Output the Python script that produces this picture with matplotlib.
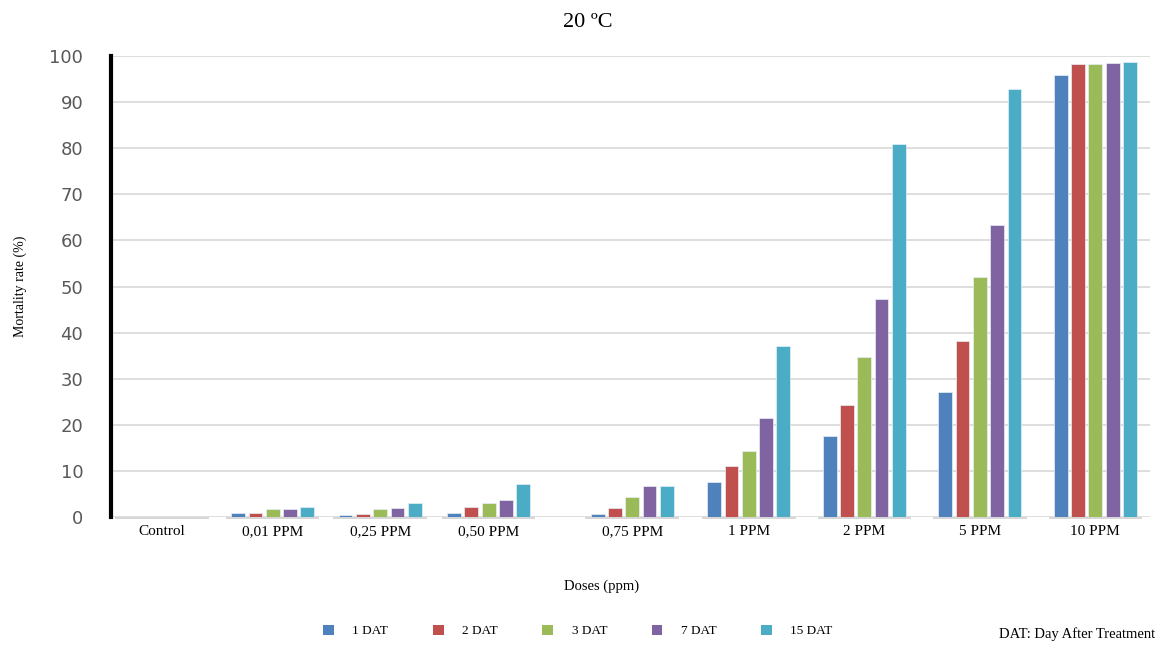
import matplotlib
matplotlib.use("Agg")
import matplotlib.pyplot as plt
from matplotlib.patches import Patch

# Mortality rate (%) per dose, for each observation day after treatment
doses = ["Control", "0,01 PPM", "0,25 PPM", "0,50 PPM", "0,75 PPM",
         "1 PPM", "2 PPM", "5 PPM", "10 PPM"]
series_names = ["1 DAT", "2 DAT", "3 DAT", "7 DAT", "15 DAT"]
dat_1 = [0.0, 0.8, 0.5, 0.8, 0.7, 7.6, 17.6, 27.1, 95.9]
dat_2 = [0.0, 0.8, 0.7, 2.1, 1.9, 11.1, 24.3, 38.2, 98.3]
dat_3 = [0.0, 1.7, 1.7, 3.1, 4.3, 14.4, 34.7, 52.1, 98.3]
dat_7 = [0.0, 1.7, 1.9, 3.6, 6.7, 21.5, 47.3, 63.3, 98.5]
dat_15 = [0.0, 2.1, 3.1, 7.2, 6.7, 37.1, 80.9, 92.8, 98.7]
series = [dat_1, dat_2, dat_3, dat_7, dat_15]

# Layout: group centres along the category axis (uneven spacing)
group_x = [0.0, 0.95, 1.87, 2.80, 4.03, 5.03, 6.02, 7.01, 8.00]
colors = ["#4F81BD", "#C0504D", "#9BBB59", "#8064A2", "#4BACC6"]
bar_step = 0.148
bar_w = 0.118

serif = ["Liberation Serif", "DejaVu Serif"]

fig = plt.figure(figsize=(11.63, 6.51), dpi=100)
ax = fig.add_axes([0.0954, 0.2058, 0.8936, 0.7082])

for i, (vals, col) in enumerate(zip(series, colors)):
    offs = (i - 2) * bar_step
    xs = [g + offs for g in group_x]
    ax.bar(xs, vals, width=bar_w, color=col, edgecolor="#e8f0f8",
           linewidth=0.5, zorder=3)

# short base segments under each dose group
for g in group_x:
    ax.hlines(-0.3, g - 0.40, g + 0.40, color="#cfcfcf", linewidth=1.2,
              zorder=2, clip_on=False)

ax.set_xlim(-0.437, 8.47)
ax.set_ylim(0, 100)
ax.set_yticks(range(0, 101, 10))
ax.yaxis.grid(True, color="#dedede", linewidth=1.4, zorder=0)
ax.set_axisbelow(True)

for s in ["top", "right", "bottom"]:
    ax.spines[s].set_visible(False)
ax.spines["left"].set_linewidth(3)
ax.spines["left"].set_color("black")
ax.spines["left"].set_zorder(5)

ax.tick_params(axis="y", length=0, pad=20, labelsize=13, labelcolor="#595959")
ax.tick_params(axis="x", length=0, pad=6)
ax.set_xticks(group_x)
ax.set_xticklabels(doses, fontsize=11, family=serif)
for lab in ax.get_yticklabels():
    lab.set_family(["DejaVu Sans"])

ax.set_xlabel("Doses (ppm)", fontsize=10.5, family=serif)
ax.xaxis.set_label_coords(0.472, -0.135)
ax.set_ylabel("Mortality rate (%)", fontsize=10, family=serif)
ax.yaxis.set_label_coords(-0.081, 0.5)

fig.text(0.505, 0.965, "20 ºC", ha="center", va="center", fontsize=16,
         family=serif)

handles = [Patch(facecolor=c, edgecolor="none") for c in colors]
fig.legend(handles, series_names, loc="center", bbox_to_anchor=(0.497, 0.031),
           ncol=5, frameon=False, prop={"family": serif, "size": 9.5},
           handlelength=0.8, handleheight=0.8, handletextpad=1.4,
           columnspacing=3.4)

fig.text(0.993, 0.015, "DAT: Day After Treatment", ha="right", va="bottom",
         fontsize=10.5, family=serif)

fig.savefig("out.png", dpi=100)
